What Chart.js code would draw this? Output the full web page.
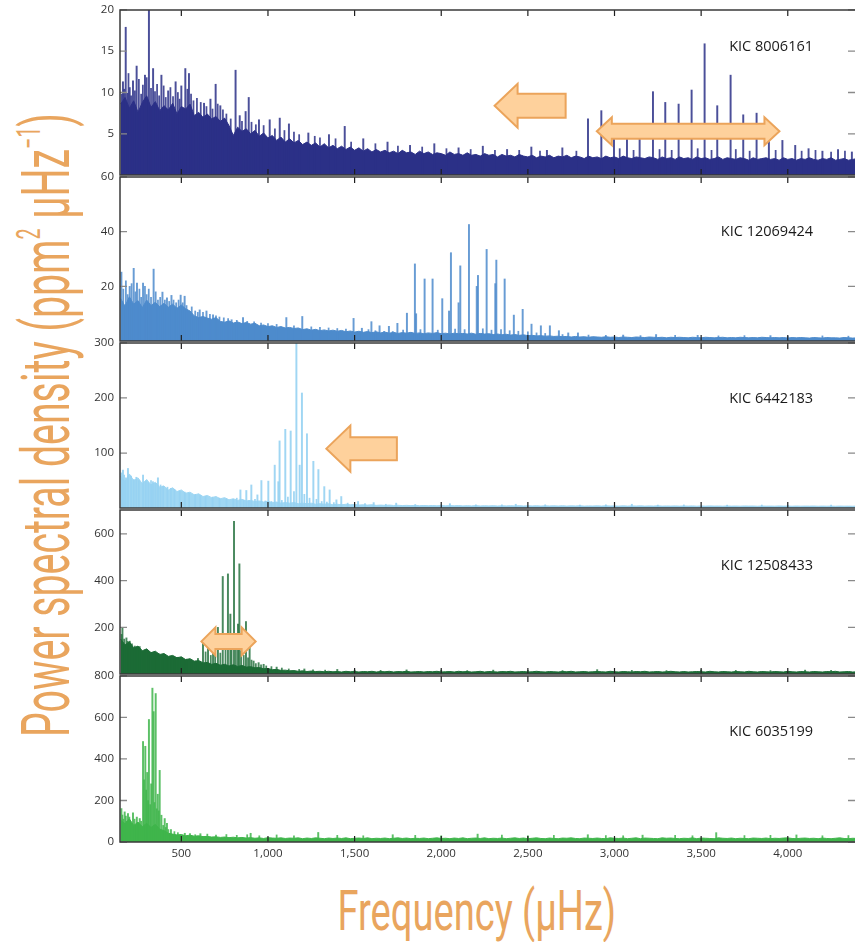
<!DOCTYPE html>
<html>
<head>
<meta charset="utf-8">
<script src="https://cdn.jsdelivr.net/npm/chart.js@4.4.1/dist/chart.umd.min.js"></script>
<style>
  html, body { margin: 0; padding: 0; background: #fff; width: 855px; height: 942px; overflow: hidden; position: relative; }
  canvas.panel { position: absolute; left: 0; }
  .title { position: absolute; left: 0; top: 0; color: #e9a55e; font-family: Roboto, "Open Sans", sans-serif; font-weight: 400;
           white-space: nowrap; line-height: 1; transform-origin: 50% 50%; }
  .title sup { font-size: 0.5em; vertical-align: 0.85em; line-height: 0; }
</style>
</head>
<body>
<div id="ytitle" class="title" style="font-size:66px">Power spectral density (ppm<sup>2</sup> µHz<sup>−1</sup>)</div>
<div id="xtitle" class="title" style="font-size:56px">Frequency (µHz)</div>
<script>
// ---- frequency bins of the smoothed background (µHz) ----
const freqBins = [
  150,175,200,225,250,275,300,325,350,375,
  400,425,450,475,500,525,550,575,600,625,
  650,675,700,725,750,775,800,825,850,875,
  900,925,950,975,1000,1025,1050,1075,1100,1125,
  1150,1175,1200,1225,1250,1275,1300,1325,1350,1375,
  1400,1425,1450,1475,1500,1525,1550,1575,1600,1625,
  1650,1675,1700,1725,1750,1775,1800,1825,1850,1875,
  1900,1925,1950,1975,2000,2025,2050,2075,2100,2125,
  2150,2175,2200,2225,2250,2275,2300,2325,2350,2375,
  2400,2425,2450,2475,2500,2525,2550,2575,2600,2625,
  2650,2675,2700,2725,2750,2775,2800,2825,2850,2875,
  2900,2925,2950,2975,3000,3025,3050,3075,3100,3125,
  3150,3175,3200,3225,3250,3275,3300,3325,3350,3375,
  3400,3425,3450,3475,3500,3525,3550,3575,3600,3625,
  3650,3675,3700,3725,3750,3775,3800,3825,3850,3875,
  3900,3925,3950,3975,4000,4025,4050,4075,4100,4125,
  4150,4175,4200,4225,4250,4275,4300,4325,4350,4375,
  4400
];

// ---- star names ----
const starNames = ['KIC 8006161', 'KIC 12069424', 'KIC 6442183', 'KIC 12508433', 'KIC 6035199'];

// ---- axis ticks ----
const xTickValues = [500, 1000, 1500, 2000, 2500, 3000, 3500, 4000];
const yTicks8006161  = [5, 10, 15, 20];
const yTicks12069424 = [20, 40, 60];
const yTicks6442183  = [100, 200, 300];
const yTicks12508433 = [200, 400, 600];
const yTicks6035199  = [0, 200, 400, 600, 800];
const yMax = [20, 60, 300, 703, 800];

// ---- KIC 8006161: background power (ppm^2/µHz) ----
const bg8006161 = [
  8.6,9.4,8.1,9.0,7.6,8.8,9.6,8.2,8.9,7.8,
  8.4,7.9,8.7,7.4,8.3,8.0,8.6,7.2,7.6,7.0,
  7.4,6.8,7.1,6.5,6.9,6.0,4.8,5.8,5.3,5.6,
  5.0,5.4,4.7,5.1,4.5,4.8,4.2,4.6,4.0,4.4,
  3.9,4.2,3.7,4.0,3.6,3.9,3.4,3.8,3.3,3.6,
  3.2,3.5,3.1,3.4,3.0,3.3,2.9,3.2,2.8,3.1,
  2.8,3.0,2.7,2.9,2.6,3.0,2.7,2.8,2.5,2.9,
  2.6,2.8,2.5,2.7,2.6,2.4,2.8,2.5,2.6,2.4,
  2.7,2.4,2.5,2.3,2.6,2.4,2.5,2.2,2.5,2.3,
  2.4,2.2,2.5,2.3,2.2,2.4,2.1,2.3,2.2,2.4,
  2.1,2.3,2.2,2.4,2.1,2.3,2.2,2.0,2.3,2.1,
  2.2,2.0,2.3,2.1,2.2,2.0,2.3,2.1,2.0,2.2,
  2.1,2.0,2.2,2.1,1.9,2.2,2.0,2.1,1.9,2.2,
  2.0,2.1,1.9,2.2,2.0,2.1,1.9,2.0,2.2,1.9,
  2.1,2.0,1.9,2.1,2.0,1.8,2.1,1.9,2.0,2.1,
  1.9,2.0,1.8,2.1,1.9,2.0,1.8,2.0,1.9,2.1,
  1.9,1.8,2.0,1.9,2.1,1.8,1.9,2.0,1.8,1.9,
  2.0
];
// strong peaks and oscillation modes
const peakFreq8006161 = [163,179,202,221,242,290,313,337,385,424,467,500,523,544,631,668,698,725,813,837,
  871,889,948,1010,1068,1121,1233,1352,1443,1550,1690,1820,1960,2100,2240,2380,2520,2610,2699,2847,
  2924,2997,3072,3145,3222,3293,3370,3445,3520,3593,3670,3743,3820,3891,3969,4043,4120,4200,4290,4370];
const peakPow8006161 = [11.3,17.9,10.6,11.4,13.2,12.1,20.5,12.9,12.1,10.2,11.3,10.8,12.9,12.3,8.7,9.2,11.0,8.4,12.7,7.2,
  7.7,9.4,6.7,6.7,6.9,6.2,5.1,4.9,5.9,4.4,4.0,3.6,3.8,3.3,3.5,3.1,3.4,3.0,3.3,6.8,
  7.8,4.5,4.5,4.5,10.1,8.8,8.6,10.3,15.9,8.4,12.1,7.3,7.5,5.1,4.2,3.6,3.2,2.9,3.1,2.8];
// smaller noise spikes
const spikeFreq8006161 = [155,170,188,195,210,232,255,268,278,300,325,348,360,372,398,410,437,452,480,490,
  535,556,570,590,612,645,680,710,740,760,785,850,905,930,975,1040,1095,1150,1180,1270,
  1300,1390,1480,1620,1750,1890,2030,2170,2310,2450,2570,2780,3030,3110,3260,3330,3480,3560,3700,3780,
  3930,4080,4160,4250,4330];
const spikePow8006161 = [9.8,10.4,9.9,12.3,9.6,10.2,11.6,9.8,10.9,11.8,10.5,10.1,11.0,9.6,10.8,9.4,10.6,9.5,10.0,9.2,
  10.4,9.8,9.0,9.3,8.8,8.3,8.0,8.6,7.9,7.4,6.8,6.5,6.4,6.1,6.0,5.6,5.4,5.2,4.9,4.7,
  4.5,4.4,4.0,3.8,3.5,3.4,3.2,3.1,3.0,3.0,2.9,2.9,3.2,3.0,3.1,3.0,3.2,3.0,3.1,2.9,
  3.0,2.9,3.0,2.8,2.9];

// ---- KIC 12069424 ----
const bg12069424 = [
  15.5,12.8,16.2,13.5,14.8,12.2,15.0,13.0,14.2,12.6,
  13.8,12.4,13.5,12.0,13.2,11.8,11.0,9.2,8.6,9.0,
  8.4,8.0,8.6,7.2,6.9,7.4,6.6,7.0,6.4,6.8,
  6.2,6.5,5.6,5.9,5.3,5.6,5.0,5.3,4.8,5.0,
  4.6,4.8,4.2,4.5,4.0,4.3,3.8,4.1,3.7,4.0,
  3.6,3.9,3.4,3.7,3.3,3.6,3.2,3.5,3.1,3.4,
  3.0,3.3,2.9,3.2,2.8,3.1,2.9,3.2,2.8,3.0,
  2.7,3.0,2.8,3.1,2.7,2.9,2.6,2.9,2.7,2.8,
  2.6,2.9,2.5,2.8,2.6,2.7,2.4,2.6,2.3,2.5,
  2.2,2.4,2.1,2.3,2.0,2.1,1.9,2.0,1.8,1.9,
  1.7,1.8,1.6,1.7,1.5,1.7,1.5,1.6,1.4,1.6,
  1.5,1.4,1.6,1.4,1.5,1.3,1.5,1.4,1.3,1.5,
  1.4,1.3,1.5,1.4,1.3,1.4,1.2,1.4,1.3,1.4,
  1.3,1.2,1.4,1.3,1.2,1.4,1.3,1.2,1.3,1.4,
  1.2,1.3,1.2,1.4,1.3,1.2,1.3,1.2,1.4,1.3,
  1.2,1.3,1.2,1.3,1.1,1.3,1.2,1.3,1.2,1.1,
  1.3,1.2,1.1,1.3,1.2,1.2,1.1,1.3,1.2,1.1,
  1.2
];
const peakFreq12069424 = [154,202,225,244,279,340,391,417,443,496,519,606,645,683,790,856,1106,1198,1494,1542,
  1597,1644,1698,1747,1802,1848,1855,1904,1950,2006,2045,2056,2100,2110,2160,2205,2212,2262,2312,2318,
  2366,2419,2470,2521,2575,2627,2679,2733,2789,3050,3240,3480,3900];
const peakPow12069424 = [25.2,20.0,26.6,21.2,21.2,26.3,17.9,15.8,16.7,16.8,16.4,11.4,11.0,9.6,7.8,8.6,8.6,9.0,8.3,4.7,
  7.1,5.6,5.4,6.5,10.2,28.2,10.0,22.7,22.7,15.5,11.0,32.3,14.0,27.5,42.6,20.0,24.0,33.5,21.0,29.6,
  22.7,9.5,11.6,6.2,5.6,5.6,3.8,3.0,3.0,2.2,2.4,2.1,2.0];
const spikeFreq12069424 = [165,180,190,213,235,258,268,290,300,312,325,352,365,378,405,430,455,470,484,508,
  530,560,580,595,625,665,700,720,745,770,820,880,920,960,1000,1050,1150,1250,1300,1350,
  1400,1450,1580,1620,1670,1720,1780,1880,1980,2080,2135,2240,2290,2345,2395,2445,2500,2550,2600,2700,
  2850,2950,3150,3350,3600,3750,4000,4200,4350];
const spikePow12069424 = [19,22,17,21,18,19,16,20,17,19,16,18,15,16,15,14.5,15,14,15,14,
  13,12.5,11,10.5,10.5,9.8,9.2,8.8,8.5,8.2,7.6,7.2,7.0,6.6,6.4,6.1,5.6,5.2,5.0,4.8,
  4.6,4.4,4.2,3.8,3.6,3.5,4.0,4.2,4.0,4.4,4.2,4.5,4.0,4.2,3.8,3.6,3.4,3.0,2.8,2.4,
  2.2,2.1,2.0,2.1,1.9,2.0,1.8,1.9,1.8];

// ---- KIC 6442183 ----
const bg6442183 = [
  58,48,62,50,55,44,52,42,47,38,
  40,33,37,30,33,27,29,24,26,21,
  23,19,21,17,19,15,17,14,16,13,
  14,12,13,11,12,10,11,9,10,9,
  10,8,9,8,9,7,8,7,8,6,
  7,6,7,6,6.5,5.5,6,5.5,6,5,
  5.5,5,5.5,4.8,5.2,4.6,5,4.5,5,4.4,
  4.8,4.3,4.7,4.2,4.6,4.1,4.5,4.2,4.6,4.0,
  4.4,4.0,4.5,3.9,4.3,4.0,4.4,3.8,4.2,4.0,
  4.3,3.9,4.4,3.8,4.2,3.9,4.3,3.7,4.1,3.9,
  4.2,3.8,4.3,3.7,4.1,3.9,4.2,3.6,4.0,3.8,
  4.1,3.7,4.2,3.8,4.0,3.6,4.1,3.7,4.0,3.8,
  4.1,3.6,4.0,3.7,4.1,3.6,3.9,3.7,4.0,3.6,
  3.9,3.7,4.0,3.5,3.9,3.6,4.0,3.7,3.8,3.5,
  3.9,3.6,3.8,3.5,3.9,3.7,3.8,3.4,3.8,3.6,
  3.7,3.5,3.9,3.6,3.7,3.4,3.8,3.5,3.7,3.6,
  3.8,3.4,3.7,3.5,3.6,3.4,3.7,3.5,3.6,3.4,
  3.6
];
const peakFreq6442183 = [163,192,279,336,365,841,875,904,939,962,1002,1039,1060,1067,1100,1131,1164,1183,1196,1225,
  1262,1291,1325,1356,1395,1423,1520,1610,1740,2050,2430,3100];
const peakPow6442183 = [69,72,60,48,55,33,32,42,24,50,49,78,48,122,143,140,310,78,209,135,
  85,70,39,33,15,21,12,10,9,8,7,7];
const spikeFreq6442183 = [155,170,180,210,225,240,255,295,310,325,350,380,395,420,440,460,490,520,545,580,
  610,640,680,720,760,800,820,860,890,925,985,1020,1080,1115,1150,1210,1240,1280,1310,1340,
  1380,1460,1560,1680,1850,2000,2200,2350,2600,2800,2950,3250,3400,3650,3850,4000,4250];
const spikePow6442183 = [64,60,55,58,52,56,50,49,46,50,45,42,40,38,36,34,31,29,27,25,
  23,21,20,18,17,16,18,14,13,16,13,12,14,20,30,25,18,16,12,11,
  10,9,8,7,6.5,6,6,5.8,6,5.5,6,5.5,5.8,5.4,5.6,5.2,5.4];

// ---- KIC 12508433 ----
const bg12508433 = [
  150,125,138,112,120,100,108,92,98,84,
  88,76,80,70,74,62,66,55,58,48,
  50,42,46,38,42,35,40,33,37,30,
  32,27,28,23,24,19,20,16,17,14,
  15,12,14,11,13,11,12,10,12,10,
  11,9,12,10,11,9,11,10,12,9,
  11,10,12,9,11,10,12,9,10,11,
  9,11,10,12,9,10,11,9,12,10,
  11,9,10,12,9,11,10,9,11,10,
  12,9,10,11,9,10,12,10,9,11,
  10,9,11,10,12,9,10,11,9,10,
  11,10,9,12,10,9,11,10,9,11,
  10,12,9,10,11,9,10,12,10,9,
  11,9,10,11,10,9,12,10,9,11,
  10,9,11,10,9,12,10,9,11,10,
  9,11,10,9,12,10,9,11,10,9,
  11,10,9,11,10,12,9,10,11,9,
  10
];
const peakFreq12508433 = [160,183,202,231,279,356,423,510,596,625,654,683,711,739,769,783,804,827,835,873,
  894,917,946,975,1050,1210,1400,1800,2300,2900,3500,4100];
const peakPow12508433 = [197,155,141,120,98,77,70,63,67,135,148,183,200,418,429,257,654,214,472,225,
  120,56,49,42,30,22,20,18,17,19,18,17];
const spikeFreq12508433 = [155,170,190,215,245,260,290,310,330,345,370,390,410,440,460,480,500,530,560,580,
  610,640,670,695,725,755,790,815,845,860,885,905,930,960,990,1020,1080,1120,1180,1260,
  1330,1500,1650,2000,2150,2500,2700,3100,3300,3700,3900,4250];
const spikePow12508433 = [170,150,140,130,115,118,100,95,92,85,88,80,76,75,70,72,66,64,60,56,
  55,95,80,110,90,110,130,150,100,80,70,60,45,40,35,32,26,22,20,18,
  17,17,16,17,15,16,15,16,15,16,15,16];

// ---- KIC 6035199 ----
const bg6035199 = [
  105,88,112,80,95,74,90,70,85,62,
  55,42,38,34,36,30,33,28,30,26,
  27,24,25,22,24,21,23,20,22,19,
  21,18,20,17,21,19,18,20,17,19,
  18,20,16,19,17,20,18,16,19,17,
  19,17,20,16,18,19,17,20,16,18,
  17,19,16,18,20,17,19,16,18,17,
  19,16,18,20,17,18,16,19,17,20,
  16,18,19,17,20,16,18,17,19,16,
  18,20,17,19,16,18,20,17,16,19,
  17,16,19,18,20,17,16,19,18,17,
  19,17,16,20,18,17,19,16,18,20,
  16,19,18,17,16,20,18,19,17,16,
  18,17,20,16,19,18,17,16,20,18,
  17,19,16,18,17,16,19,18,17,19,
  16,18,17,19,20,17,16,18,19,17,
  18,16,19,17,16,18,20,17,16,18,
  17
];
const peakFreq6035199 = [154,173,192,221,243,260,279,292,303,313,326,333,340,352,364,375,385,404,417,440,
  520,610,900,1290,1720,2210,2846,3162,3587,4050];
const peakPow6035199 = [161,145,137,140,120,113,484,461,335,590,280,741,628,715,230,345,129,113,90,60,
  42,40,42,46,35,38,35,33,45,34];
const spikeFreq6035199 = [160,165,180,185,200,210,230,250,268,285,297,308,320,345,358,370,395,410,425,460,
  480,550,580,650,700,760,820,880,950,1050,1150,1400,1550,1850,2000,2350,2500,2650,2950,3050,
  3350,3450,3750,3900,4200,4350];
const spikePow6035199 = [130,110,125,100,120,90,110,95,100,300,250,200,180,190,160,150,80,70,60,50,
  45,40,35,38,33,36,32,35,30,34,30,32,30,32,30,33,30,32,31,30,
  32,30,31,32,30,31];

// ---- colours ----
const panelColors = ['#2b3087', '#4d8bcc', '#a0d7f3', '#1c6b36', '#3fb54b'];
const spikeColors = ['rgba(43,48,135,0.85)', 'rgba(77,139,204,0.85)', 'rgba(150,210,242,0.9)', 'rgba(28,107,54,0.8)', 'rgba(63,181,75,0.85)'];

// ---- page layout (px) ----
const panelTops = [9, 176, 342, 509, 675];
const plotBottom = 842;
const plotLeft = 120;
const pageWidth = 855;
const padV = 12;
const xAxisHeight = 30;
const labelOffsets = [37, 55, 56, 56, 56];

const panels = [
  { bg: bg8006161,  pf: peakFreq8006161,  pp: peakPow8006161,  sf: spikeFreq8006161,  sp: spikePow8006161,  yTicks: yTicks8006161 },
  { bg: bg12069424, pf: peakFreq12069424, pp: peakPow12069424, sf: spikeFreq12069424, sp: spikePow12069424, yTicks: yTicks12069424 },
  { bg: bg6442183,  pf: peakFreq6442183,  pp: peakPow6442183,  sf: spikeFreq6442183,  sp: spikePow6442183,  yTicks: yTicks6442183 },
  { bg: bg12508433, pf: peakFreq12508433, pp: peakPow12508433, sf: spikeFreq12508433, sp: spikePow12508433, yTicks: yTicks12508433 },
  { bg: bg6035199,  pf: peakFreq6035199,  pp: peakPow6035199,  sf: spikeFreq6035199,  sp: spikePow6035199,  yTicks: yTicks6035199 }
];

// highlighted frequency ranges: [panel, fromFreq, toFreq, centrePower, headLen, headHalf, shaftHalf, doubleHeaded]
const arrows = [
  [0, 2308, 2718, 8.4, 23, 22, 12, false],
  [0, 2898, 3952, 5.3, 15, 14, 7.5, true],
  [2, 1337, 1744, 108, 24, 23, 11.5, false],
  [3, 616, 929, 140, 14, 14, 7.5, true]
];

function drawArrow(ctx, xa, xb, yc, hl, hh, sh, dbl) {
  ctx.beginPath();
  ctx.moveTo(xa, yc);
  ctx.lineTo(xa + hl, yc - hh);
  ctx.lineTo(xa + hl, yc - sh);
  if (dbl) {
    ctx.lineTo(xb - hl, yc - sh);
    ctx.lineTo(xb - hl, yc - hh);
    ctx.lineTo(xb, yc);
    ctx.lineTo(xb - hl, yc + hh);
    ctx.lineTo(xb - hl, yc + sh);
  } else {
    ctx.lineTo(xb, yc - sh);
    ctx.lineTo(xb, yc + sh);
  }
  ctx.lineTo(xa + hl, yc + sh);
  ctx.lineTo(xa + hl, yc + hh);
  ctx.closePath();
  ctx.fillStyle = '#fed19c';
  ctx.fill();
  ctx.strokeStyle = '#eba45b';
  ctx.lineWidth = 2;
  ctx.lineJoin = 'miter';
  ctx.stroke();
}

const panelDecor = {
  id: 'panelDecor',
  afterDatasetsDraw(chart, args, opts) {
    const { ctx, chartArea: a, scales: { x, y } } = chart;
    const idx = opts.index;
    ctx.save();
    // inward tick marks on the left and right edges
    ctx.strokeStyle = '#8a8a8a';
    ctx.lineWidth = 1.3;
    panels[idx].yTicks.forEach(v => {
      const py = y.getPixelForValue(v);
      ctx.beginPath();
      ctx.moveTo(a.left, py); ctx.lineTo(a.left + 7, py);
      ctx.moveTo(a.right - 7, py); ctx.lineTo(a.right, py);
      ctx.stroke();
    });
    // inward frequency ticks on the top and bottom edges
    ctx.strokeStyle = '#1e1e1e';
    ctx.lineWidth = 1.2;
    xTickValues.forEach(v => {
      const px = x.getPixelForValue(v);
      ctx.beginPath();
      ctx.moveTo(px, a.top); ctx.lineTo(px, a.top + 6);
      ctx.moveTo(px, a.bottom - 6); ctx.lineTo(px, a.bottom);
      ctx.stroke();
    });
    // frame
    ctx.strokeStyle = '#3a3a3a';
    ctx.lineWidth = 1.5;
    ctx.beginPath();
    ctx.moveTo(a.right, a.top); ctx.lineTo(a.left, a.top); ctx.lineTo(a.left, a.bottom); ctx.lineTo(a.right, a.bottom);
    ctx.stroke();
    // arrows
    arrows.filter(r => r[0] === idx).forEach(r => {
      drawArrow(ctx, x.getPixelForValue(r[1]), x.getPixelForValue(r[2]), y.getPixelForValue(r[3]), r[4], r[5], r[6], r[7]);
    });
    // star name
    ctx.fillStyle = '#1a1a1a';
    ctx.font = '14.5px "Open Sans", sans-serif';
    ctx.textAlign = 'right';
    ctx.textBaseline = 'middle';
    ctx.fillText(starNames[idx], a.right - 42, a.top + labelOffsets[idx]);
    ctx.restore();
  }
};

const tickFont = { family: '"Open Sans", sans-serif', size: 11.5 };

panels.forEach((p, i) => {
  const last = i === panels.length - 1;
  const top = panelTops[i];
  const bottom = last ? plotBottom : panelTops[i + 1];
  const h = (bottom - top) + padV + (last ? xAxisHeight : padV);
  const cv = document.createElement('canvas');
  cv.className = 'panel';
  cv.width = pageWidth; cv.height = h;
  cv.style.width = pageWidth + 'px'; cv.style.height = h + 'px';
  cv.style.top = (top - padV) + 'px';
  document.body.appendChild(cv);

  const bgPoints = freqBins.map((f, k) => ({ x: f, y: p.bg[k] }));
  const peakPoints = p.pf.map((f, k) => ({ x: f, y: p.pp[k] }));
  const spikePoints = p.sf.map((f, k) => ({ x: f, y: p.sp[k] }));

  new Chart(cv, {
    type: 'line',
    data: {
      datasets: [
        { type: 'bar', data: peakPoints, backgroundColor: spikeColors[i], borderWidth: 0,
          barThickness: 1.3, grouped: false, clip: 0 },
        { type: 'bar', data: spikePoints, backgroundColor: spikeColors[i], borderWidth: 0,
          barThickness: 1.1, grouped: false, clip: 0 },
        { type: 'line', data: bgPoints, borderColor: panelColors[i], backgroundColor: panelColors[i],
          borderWidth: 1, pointRadius: 0, tension: 0, fill: 'origin', clip: 0 }
      ]
    },
    options: {
      responsive: false,
      animation: false,
      events: [],
      layout: { padding: { top: padV, bottom: last ? 0 : padV, left: 0, right: 0 } },
      plugins: { legend: { display: false }, tooltip: { enabled: false }, panelDecor: { index: i } },
      scales: {
        x: {
          type: 'linear', min: 146, max: 4388, offset: false, display: last,
          grid: { display: false, drawTicks: false }, border: { display: false },
          ticks: { font: tickFont, color: '#333', padding: 5, maxRotation: 0, autoSkip: false },
          afterBuildTicks: s => { s.ticks = xTickValues.map(v => ({ value: v })); },
          afterFit: s => { if (last) s.height = xAxisHeight; }
        },
        y: {
          min: 0, max: yMax[i],
          grid: { display: false, drawTicks: false }, border: { display: false },
          ticks: { font: tickFont, color: '#333', padding: 6 },
          afterBuildTicks: s => { s.ticks = p.yTicks.map(v => ({ value: v })); },
          afterFit: s => { s.width = plotLeft; }
        }
      }
    },
    plugins: [panelDecor]
  });
});

// axis titles: condensed to their printed lengths
function placeTitle(el, targetW, cx, cy, rotated) {
  const w = el.offsetWidth, h = el.offsetHeight;
  el.style.left = (cx - w / 2) + 'px';
  el.style.top = (cy - h / 2) + 'px';
  el.style.transform = (rotated ? 'rotate(-90deg) ' : '') + 'scaleX(' + (targetW / w) + ')';
}
function placeTitles() {
  placeTitle(document.getElementById('ytitle'), 624, 46, 425, true);
  placeTitle(document.getElementById('xtitle'), 279, 477, 911, false);
}
placeTitles();
if (document.fonts && document.fonts.ready) document.fonts.ready.then(placeTitles);
</script>
</body>
</html>
